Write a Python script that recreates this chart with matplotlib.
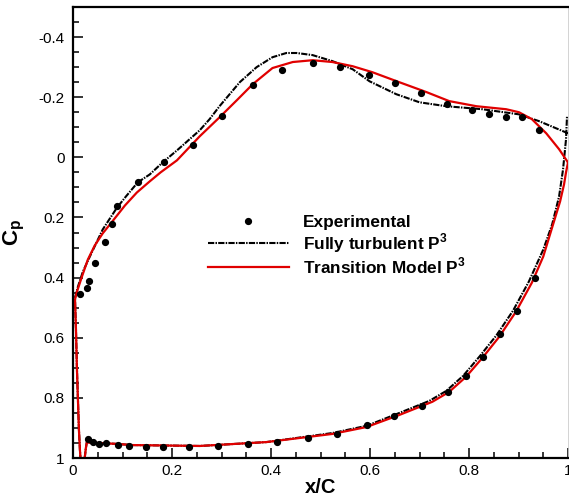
import matplotlib
matplotlib.use("Agg")
import matplotlib.pyplot as plt
from matplotlib.ticker import MultipleLocator, FuncFormatter

plt.rcParams['font.family'] = ['Liberation Sans', 'DejaVu Sans']
plt.rcParams['mathtext.fontset'] = 'custom'
plt.rcParams['mathtext.rm'] = 'Liberation Sans'
plt.rcParams['mathtext.bf'] = 'Liberation Sans:bold'
plt.rcParams['axes.unicode_minus'] = False

# experimental data, upper and lower surface
exp_x_upper = [0.014, 0.028, 0.032, 0.044, 0.065, 0.079, 0.089, 0.131, 0.183, 0.242,
               0.300, 0.363, 0.423, 0.484, 0.540, 0.597, 0.651, 0.704, 0.756, 0.806,
               0.841, 0.875, 0.907, 0.942]
exp_cp_upper = [0.453, 0.433, 0.41, 0.353, 0.283, 0.223, 0.163, 0.083, 0.017, -0.04,
                -0.137, -0.24, -0.29, -0.313, -0.30, -0.273, -0.247, -0.213, -0.177, -0.157,
                -0.143, -0.133, -0.133, -0.09]
exp_x_lower = [0.030, 0.040, 0.052, 0.066, 0.091, 0.113, 0.147, 0.181, 0.234, 0.292,
               0.353, 0.413, 0.474, 0.534, 0.593, 0.649, 0.706, 0.758, 0.794, 0.829,
               0.863, 0.897, 0.933]
exp_cp_lower = [0.937, 0.947, 0.953, 0.95, 0.957, 0.96, 0.963, 0.963, 0.963, 0.96,
                0.953, 0.947, 0.933, 0.92, 0.89, 0.86, 0.827, 0.78, 0.727, 0.663,
                0.587, 0.51, 0.40]

# fully turbulent P3
turb_x_upper = [0.004, 0.010, 0.020, 0.034, 0.060, 0.089, 0.107, 0.131, 0.155, 0.181,
                0.210, 0.256, 0.276, 0.296, 0.337, 0.371, 0.403, 0.431, 0.452, 0.484,
                0.524, 0.565, 0.599, 0.653, 0.700, 0.754, 0.827, 0.901, 0.942, 1.0]
turb_cp_upper = [0.467, 0.43, 0.38, 0.33, 0.24, 0.167, 0.13, 0.083, 0.057, 0.017,
                 -0.023, -0.09, -0.127, -0.17, -0.25, -0.30, -0.333, -0.347, -0.347, -0.34,
                 -0.32, -0.293, -0.253, -0.21, -0.183, -0.17, -0.16, -0.143, -0.12, -0.08]
turb_x_lower = [0.004, 0.006, 0.008, 0.010, 0.012, 0.014, 0.016, 0.022, 0.026, 0.028,
                0.036, 0.052, 0.087, 0.121, 0.256, 0.391, 0.524, 0.593, 0.655, 0.720,
                0.754, 0.788, 0.821, 0.855, 0.889, 0.921, 0.950, 0.968, 0.982, 0.990,
                0.996, 0.998]
turb_cp_lower = [0.467, 0.573, 0.707, 0.807, 0.907, 0.973, 1.023, 1.023, 0.967, 0.947,
                 0.95, 0.95, 0.953, 0.957, 0.96, 0.947, 0.917, 0.893, 0.853, 0.81,
                 0.777, 0.727, 0.663, 0.593, 0.51, 0.413, 0.307, 0.223, 0.13, 0.04,
                 -0.06, -0.137]

# transition model P3
tran_x_upper = [0.004, 0.008, 0.018, 0.030, 0.044, 0.060, 0.081, 0.105, 0.129, 0.155,
                0.177, 0.210, 0.256, 0.296, 0.331, 0.363, 0.403, 0.444, 0.484, 0.524,
                0.565, 0.605, 0.659, 0.714, 0.760, 0.815, 0.875, 0.901, 0.927, 0.956,
                0.982, 1.0]
tran_cp_upper = [0.473, 0.447, 0.397, 0.34, 0.293, 0.253, 0.21, 0.16, 0.117, 0.08,
                 0.05, 0.01, -0.07, -0.133, -0.19, -0.243, -0.297, -0.317, -0.323, -0.317,
                 -0.303, -0.283, -0.25, -0.217, -0.187, -0.17, -0.16, -0.15, -0.127, -0.08,
                 -0.027, 0.017]
tran_x_lower = [0.004, 0.006, 0.008, 0.010, 0.012, 0.014, 0.016, 0.022, 0.026, 0.028,
                0.036, 0.052, 0.087, 0.121, 0.256, 0.391, 0.524, 0.593, 0.659, 0.726,
                0.760, 0.794, 0.827, 0.861, 0.895, 0.927, 0.950, 0.968, 0.984, 0.992,
                0.996, 1.0]
tran_cp_lower = [0.473, 0.573, 0.707, 0.807, 0.907, 0.973, 1.023, 1.023, 0.967, 0.947,
                 0.95, 0.95, 0.953, 0.957, 0.96, 0.947, 0.92, 0.897, 0.857, 0.813,
                 0.78, 0.73, 0.667, 0.597, 0.513, 0.417, 0.33, 0.233, 0.147, 0.09,
                 0.05, 0.017]

fig = plt.figure(figsize=(5.69, 4.97), dpi=100)
ax = fig.add_axes([73 / 569, 1 - 458 / 497, 495 / 569, 451 / 497])

red = '#e00000'
ax.plot(turb_x_upper[::-1] + turb_x_lower, turb_cp_upper[::-1] + turb_cp_lower,
        color='black', lw=1.5, dashes=[3.0, 0.6, 0.7, 0.6], label='Fully turbulent P$^\\mathbf{3}$')
ax.plot(tran_x_upper[::-1] + tran_x_lower, tran_cp_upper[::-1] + tran_cp_lower,
        color=red, lw=1.6, label='Transition Model P$^\\mathbf{3}$')
ax.plot(exp_x_upper + exp_x_lower, exp_cp_upper + exp_cp_lower, 'o', color='black',
        ms=4.2, ls='none', label='Experimental')

ax.set_xlim(0, 1)
ax.set_ylim(1, -0.5)
ax.xaxis.set_major_locator(MultipleLocator(0.2))
ax.xaxis.set_minor_locator(MultipleLocator(0.05))
ax.yaxis.set_major_locator(MultipleLocator(0.2))
ax.yaxis.set_minor_locator(MultipleLocator(0.05))
fmt = FuncFormatter(lambda v, p: '%g' % round(v, 2))
ax.xaxis.set_major_formatter(fmt)
ax.yaxis.set_major_formatter(fmt)
ax.tick_params(which='both', direction='in', top=False, right=False, width=1.1, labelsize=11)
ax.tick_params(which='major', length=7.5)
ax.tick_params(axis='y', which='major', pad=6)
ax.tick_params(axis='x', which='major', pad=4)
ax.tick_params(which='minor', length=4.5)
for s in ['left', 'bottom', 'top']:
    ax.spines[s].set_linewidth(1.6)
ax.spines['right'].set_linewidth(0.6)
ax.spines['right'].set_color('#cccccc')

ax.set_xlabel('x/C', fontsize=14.5, fontweight='bold', labelpad=0)
ax.set_ylabel('$\\mathbf{C_p}$', fontsize=16, labelpad=8)

h, l = ax.get_legend_handles_labels()
order = [2, 0, 1]
ax.legend([h[i] for i in order], [l[i] for i in order], loc='upper left',
          bbox_to_anchor=((208 - 73) / 495, (458 - 215) / 451), frameon=False,
          borderpad=0, borderaxespad=0, handlelength=4.7, handletextpad=0.8,
          labelspacing=0.05, prop={'weight': 'bold', 'size': 12.4})

fig.savefig('out.png', dpi=100)
